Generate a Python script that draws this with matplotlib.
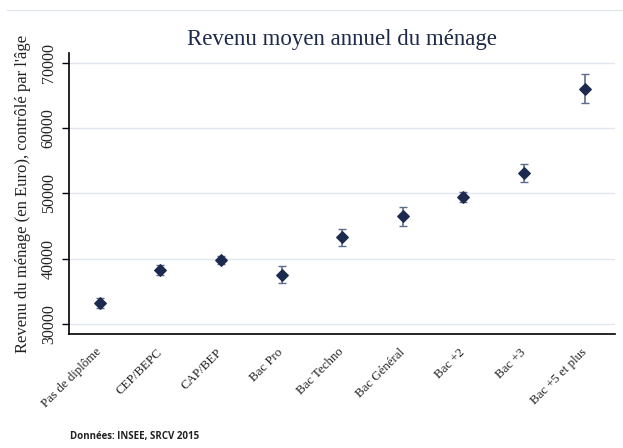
import numpy as np
import matplotlib
matplotlib.use("Agg")
import matplotlib.pyplot as plt
import matplotlib.transforms as mtransforms

# Revenu moyen annuel du ménage par diplôme (INSEE, SRCV 2015)
diplomes = ["Pas de diplôme", "CEP/BEPC", "CAP/BEP", "Bac Pro", "Bac Techno",
            "Bac Général", "Bac +2", "Bac +3", "Bac +5 et plus"]
revenu = [33200, 38300, 39800, 37450, 43350, 46600, 49400, 53150, 66000]
ic_bas = [32500, 37550, 39200, 36200, 42000, 45050, 48650, 51750, 63800]
ic_haut = [33900, 39050, 40450, 38800, 44500, 47900, 50200, 54500, 68350]
yticks = [30000, 40000, 50000, 60000, 70000]

navy = "#1b2a4e"
errc = "#5d6b8c"
serif = ["Liberation Serif", "DejaVu Serif"]

fig = plt.figure(figsize=(6.23, 4.48), dpi=100)
ax = fig.add_axes([0.1112, 0.2551, 0.876, 0.626])

x = np.arange(1, len(diplomes) + 1)
rev = np.array(revenu)
err = [rev - np.array(ic_bas), np.array(ic_haut) - rev]
ax.errorbar(x, rev, yerr=err, fmt="none", ecolor=errc, elinewidth=1.2,
            capsize=3, capthick=1.0, zorder=2)
ax.scatter(x, rev, marker="D", s=34, color=navy, zorder=3)

ax.set_xlim(0.5, 9.5)
ax.set_ylim(28500, 71450)
ax.set_yticks(yticks)
ax.set_yticklabels([str(v) for v in yticks], rotation=90, va="center",
                   family=serif, fontsize=11.5, color="#222222")
ax.set_xticks(x)
ax.set_xticklabels(diplomes, rotation=45, ha="right", va="center",
                   rotation_mode="anchor", family=serif, fontsize=9.3,
                   color="#222222")
shift = mtransforms.ScaledTranslation(-6 / 100, 0, fig.dpi_scale_trans)
for lbl in ax.get_xticklabels():
    lbl.set_transform(lbl.get_transform() + shift)
ax.tick_params(axis="x", length=0, pad=12)
ax.tick_params(axis="y", length=5, width=1, pad=4)
ax.grid(axis="y", color="#e2e6f0", linewidth=1)
ax.set_axisbelow(True)
for s in ["top", "right"]:
    ax.spines[s].set_visible(False)
for s in ["left", "bottom"]:
    ax.spines[s].set_linewidth(1.2)
    ax.spines[s].set_color("black")

ax.set_ylabel("Revenu du ménage (en Euro), contrôlé par l'âge",
              family=serif, fontsize=12, color="#222222", labelpad=7)
fig.text(0.549, 0.912, "Revenu moyen annuel du ménage", ha="center",
         va="center", family=serif, fontsize=16.5, color="#1e2a4a")
fig.text(0.113, 0.025, "Données: INSEE, SRCV 2015", ha="left", va="center",
         fontsize=7, fontweight="bold", family=["Open Sans", "DejaVu Sans"],
         color="#222222")
fig.add_artist(plt.Line2D([0.011, 1.0], [0.978, 0.978], color="#e2e6f0",
                          linewidth=1, transform=fig.transFigure))

fig.savefig("out.png", dpi=100)
